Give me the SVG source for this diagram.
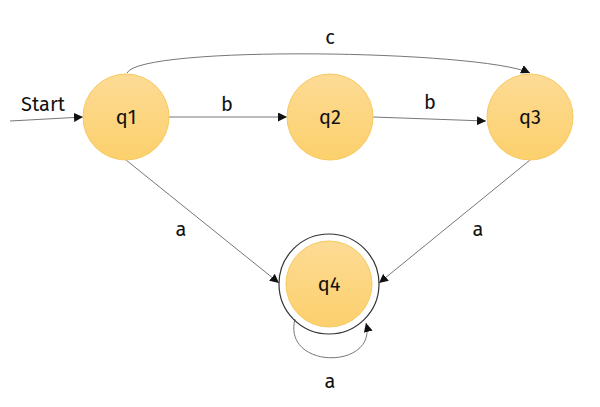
<svg xmlns="http://www.w3.org/2000/svg" width="600" height="407" viewBox="0 0 600 407">
<style>
.st{fill:url(#g);stroke:#f7c95e;stroke-width:1}
.lbl{font-family:"Fira Sans","Open Sans","Noto Sans",sans-serif;font-size:20px;fill:#111;text-anchor:middle}
.e{fill:none;stroke:#777;stroke-width:1}
</style>
<defs>
<linearGradient id="g" x1="0" y1="0" x2="0" y2="1">
<stop offset="0" stop-color="#fddb95"/>
<stop offset="1" stop-color="#fcd06c"/>
</linearGradient>
<marker id="a" viewBox="0 0 10 10" refX="10" refY="5" markerWidth="9" markerHeight="9" markerUnits="userSpaceOnUse" orient="auto">
<path d="M0,0 L10,5 L0,10 z" fill="#111"/>
</marker>
</defs>
<rect width="600" height="407" fill="#fff"/>
<g id="edges">
<path class="e" d="M10,121 L83,117" marker-end="url(#a)"/>
<path class="e" d="M169,117 L287,117" marker-end="url(#a)"/>
<path class="e" d="M373,117 L486,121" marker-end="url(#a)"/>
<path class="e" d="M127,73 C140,45 480,50 530,73" marker-end="url(#a)"/>
<path class="e" d="M126,160 L279,283" marker-end="url(#a)"/>
<path class="e" d="M530,160 L379,283" marker-end="url(#a)"/>
<path class="e" d="M295,319 C282,370 378,370 366,323" marker-end="url(#a)"/>
<text class="lbl" x="43" y="111">Start</text>
<text class="lbl" x="227" y="111">b</text>
<text class="lbl" x="430" y="109">b</text>
<text class="lbl" x="330" y="44">c</text>
<text class="lbl" x="181" y="236">a</text>
<text class="lbl" x="478" y="236">a</text>
<text class="lbl" x="330" y="388">a</text>
</g>
<g id="q1"><circle class="st" cx="126" cy="117" r="43"/><text class="lbl" x="126" y="124">q1</text></g>
<g id="q2"><circle class="st" cx="330" cy="117" r="43"/><text class="lbl" x="330" y="124">q2</text></g>
<g id="q3"><circle class="st" cx="530" cy="117" r="43"/><text class="lbl" x="530" y="124">q3</text></g>
<g id="q4"><circle cx="329" cy="284" r="50" fill="none" stroke="#333" stroke-width="1.2"/><circle class="st" cx="329" cy="284" r="43"/><text class="lbl" x="329" y="291">q4</text></g>
</svg>
